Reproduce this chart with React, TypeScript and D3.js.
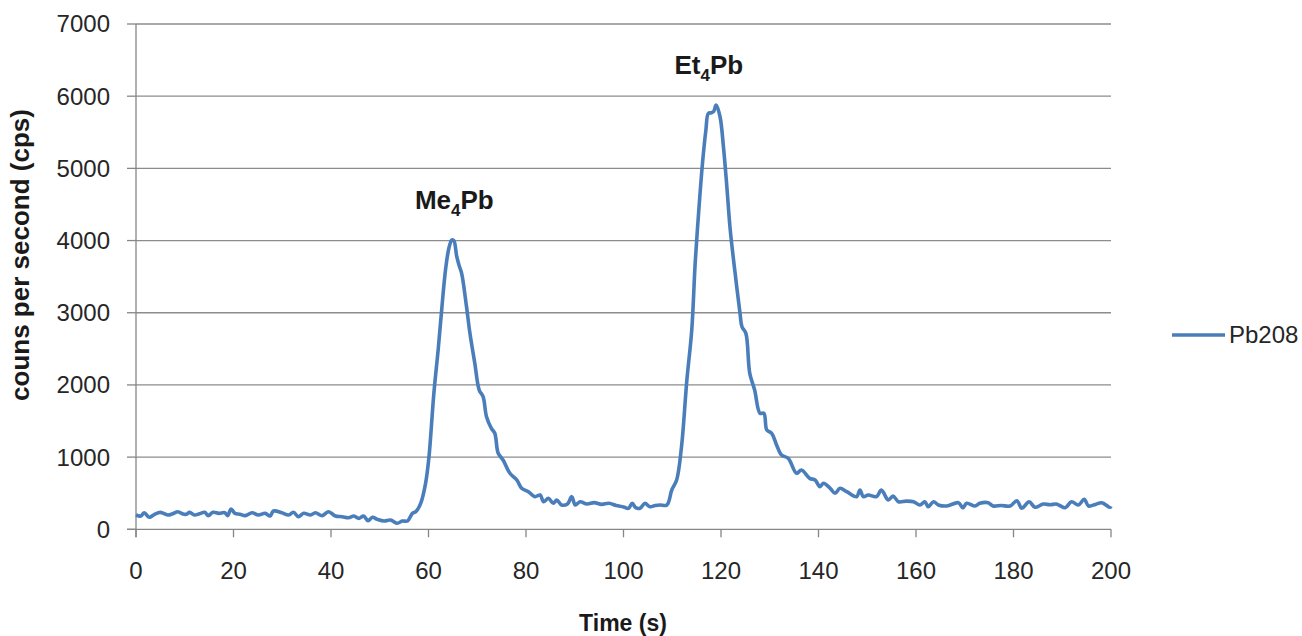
import React from 'react';
import * as d3 from 'd3';

// chromatogram trace (time in s, counts per second)
const timeSec = [
  0, 1, 1.7, 2.7, 3.8, 5, 6.5, 7.5, 8.6, 9.5, 10.3, 11, 12, 13, 14.1, 14.8, 15.8, 17, 18.2, 18.8,
  19.5, 20.3, 21.3, 22.4, 23.8, 25.1, 26.5, 27.5, 28.2, 29.9, 31.3, 32.3, 33.3, 34.4, 35.8, 36.8, 38.2, 39.5, 40.9, 42.3,
  43.6, 44.7, 45.7, 46.7, 47.6, 48.5, 49.5, 50.9, 52.2, 53.6, 54.6, 55.7, 56.7, 57.4, 58.4, 59.4, 60.1, 61.1, 62, 62.7,
  63.5, 64.2, 64.8, 65.2, 65.8, 66.3, 66.8, 67.8, 68.5, 69.5, 70.4, 71.2, 71.9, 72.9, 73.6, 74.3, 75.3, 76.7, 78.1, 79.1,
  80.5, 81.8, 82.9, 83.6, 84.6, 85.6, 86.3, 87.3, 88.5, 89.4, 90.1, 91.1, 92.5, 94, 95.5, 97, 98.5, 100, 101, 101.8,
  102.5, 103.4, 104.4, 105.4, 106.5, 107.5, 108.9, 109.9, 110.9, 111.9, 113, 114, 114.7, 115.4, 116.2, 116.9, 117.4, 118, 118.5, 119,
  119.8, 120.5, 121.2, 121.9, 122.9, 123.9, 124.3, 125.1, 125.9, 126.9, 128, 128.8, 129.4, 130.4, 131.4, 132.4, 133.8, 135.5, 136.5, 138.2,
  139.3, 140.3, 141, 142.4, 143.4, 144.4, 145.8, 147.8, 148.5, 149.2, 150.2, 151.9, 152.9, 154.3, 155.3, 156.4, 158, 159.5, 160.8, 161.8,
  162.5, 163.6, 164.6, 166.3, 168.7, 169.6, 170.4, 172.1, 173.1, 174.8, 175.8, 177.5, 179.3, 180.7, 181.7, 183.2, 184.4, 186.1, 187.5, 188.8,
  190.6, 191.9, 193.3, 194.5, 195.4, 196.8, 198.1, 199.8, 200
];
const pb208 = [
  198, 184, 230, 166, 208, 235, 198, 215, 244, 215, 208, 235, 198, 215, 235, 189, 235, 220, 230, 189,
  281, 221, 210, 189, 230, 198, 221, 184, 253, 230, 198, 235, 175, 221, 198, 230, 189, 244, 184, 175,
  161, 184, 152, 184, 119, 166, 138, 115, 129, 83, 115, 115, 221, 244, 360, 637, 1005, 1884, 2500, 3037,
  3600, 3900, 4010, 4000, 3776, 3650, 3545, 3083, 2715, 2299, 1929, 1837, 1560, 1399, 1330, 1053, 960, 776, 684, 568,
  521, 452, 475, 382, 429, 360, 406, 337, 350, 452, 337, 382, 350, 370, 345, 360, 330, 310, 290, 360,
  300, 291, 360, 313, 330, 337, 337, 544, 683, 1144, 2068, 2760, 3684, 4377, 5069, 5530, 5762, 5770, 5790, 5877,
  5715, 5299, 4745, 4145, 3546, 2992, 2806, 2715, 2161, 1929, 1607, 1607, 1375, 1330, 1168, 1029, 983, 776, 821, 706,
  683, 590, 637, 568, 499, 568, 521, 452, 544, 452, 475, 452, 544, 406, 461, 382, 390, 382, 337, 382,
  313, 382, 337, 323, 368, 299, 360, 323, 360, 368, 323, 330, 323, 396, 291, 382, 305, 350, 340, 350,
  299, 382, 337, 415, 323, 345, 368, 305, 320
];

const xTicks = [0, 20, 40, 60, 80, 100, 120, 140, 160, 180, 200];
const yTicks = [0, 1000, 2000, 3000, 4000, 5000, 6000, 7000];

const seriesName = 'Pb208';
const peakNames = ['Me', 'Et'];
const peakTimes = [65.3, 117.5];
const peakHeights = [4010, 5877];

const W = 1302;
const H = 636;
const FONT = '"Liberation Sans", Arial, sans-serif';
const BLUE = '#4a7ebb';

export default function App() {
  const x = d3.scaleLinear().domain([0, 200]).range([136, 1111]);
  const y = d3.scaleLinear().domain([0, 7000]).range([529.3, 24]);
  const pts = timeSec.map((t, i) => [t, pb208[i]] as [number, number]);
  const line = d3.line<[number, number]>()
    .x(d => x(d[0]))
    .y(d => y(d[1]))
    .curve(d3.curveCatmullRom.alpha(0.5));

  return (
    <svg width={W} height={H} style={{ position: 'absolute', left: 0, top: 0, background: '#fff' }}
      fontFamily={FONT}>
      {/* gridlines */}
      {yTicks.filter(v => v > 0).map(v => (
        <line key={'g' + v} x1={x(0)} x2={x(200)} y1={y(v)} y2={y(v)} stroke="#8c8c8c" strokeWidth={1.3} />
      ))}
      {/* axes */}
      <line x1={x(0)} x2={x(0)} y1={y(7000)} y2={y(0) + 8} stroke="#868686" strokeWidth={1.3} />
      <line x1={x(0) - 9} x2={x(200)} y1={y(0)} y2={y(0)} stroke="#868686" strokeWidth={1.3} />
      {yTicks.map(v => (
        <g key={'y' + v}>
          <line x1={x(0) - 9} x2={x(0)} y1={y(v)} y2={y(v)} stroke="#868686" strokeWidth={1.3} />
          <text x={110} y={y(v)} dy="0.35em" textAnchor="end" fontSize={24} fill="#262626">{v}</text>
        </g>
      ))}
      {xTicks.map(v => (
        <g key={'x' + v}>
          <line x1={x(v)} x2={x(v)} y1={y(0)} y2={y(0) + 8} stroke="#868686" strokeWidth={1.3} />
          <text x={x(v)} y={579} textAnchor="middle" fontSize={24} fill="#262626">{v}</text>
        </g>
      ))}

      <path d={line(pts) || ''} fill="none" stroke={BLUE} strokeWidth={3.6} strokeLinejoin="round" />

      {/* peak labels */}
      {peakNames.map((name, i) => (
        <text key={name} x={x(peakTimes[i])} y={y(peakHeights[i]) - 31} textAnchor="middle"
          fontSize={26} fontWeight="bold" fill="#1a1a1a">
          {name}
          <tspan fontSize={17} dy={7}>4</tspan>
          <tspan dy={-7}>Pb</tspan>
        </text>
      ))}

      {/* axis titles */}
      <text x={623} y={631} textAnchor="middle" fontSize={23} fontWeight="bold" fill="#1a1a1a">Time (s)</text>
      <text transform="translate(29,255) rotate(-90)" textAnchor="middle" fontSize={26} fontWeight="bold"
        fill="#1a1a1a">couns per second (cps)</text>

      {/* legend */}
      <line x1={1172} x2={1225} y1={335} y2={335} stroke={BLUE} strokeWidth={3.6} />
      <text x={1229} y={335} dy="0.35em" fontSize={24} fill="#262626">{seriesName}</text>
    </svg>
  );
}
